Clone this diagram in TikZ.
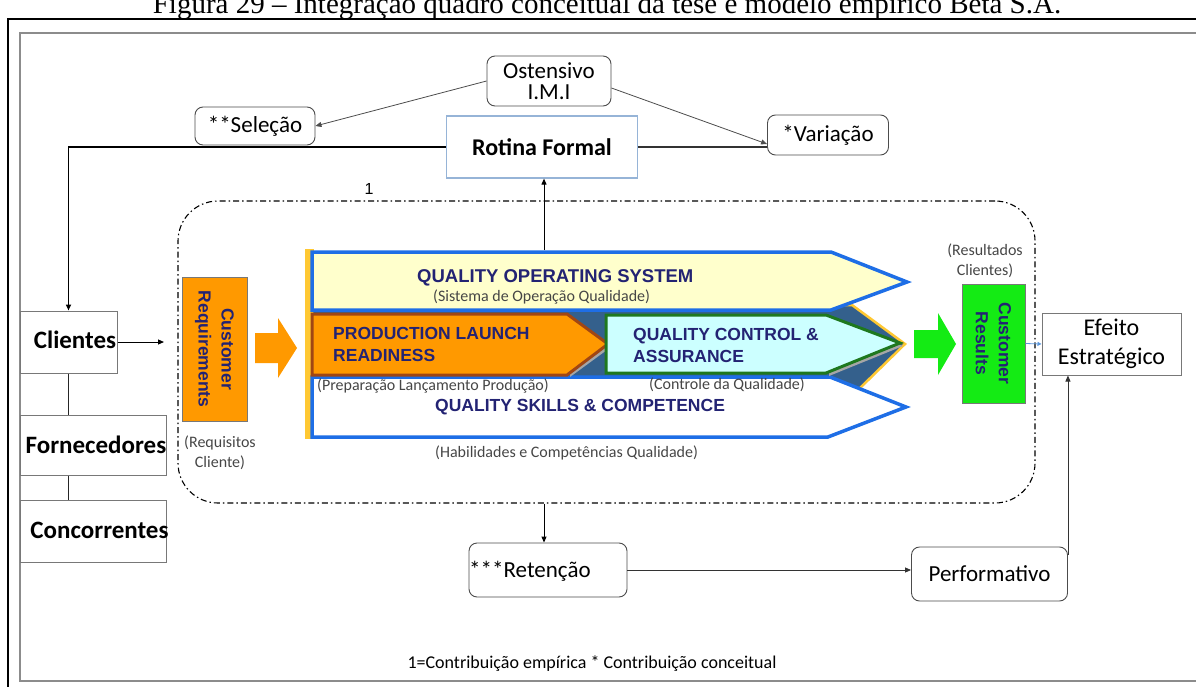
\documentclass[tikz,border=0pt]{standalone}
\usepackage{fontspec}
\setmainfont{Liberation Serif}
\newfontfamily\cali{Carlito}
\newfontfamily\ari{Liberation Sans}
\usetikzlibrary{arrows.meta}
\definecolor{navy}{RGB}{35,35,115}
\definecolor{orng}{RGB}{255,153,0}
\definecolor{orngb}{RGB}{160,70,20}
\definecolor{grn}{RGB}{20,235,20}
\definecolor{cream}{RGB}{255,255,204}
\definecolor{cyanl}{RGB}{204,255,255}
\definecolor{chblue}{RGB}{30,110,230}
\definecolor{chgreen}{RGB}{30,120,30}
\definecolor{steel}{RGB}{52,96,140}
\definecolor{gold}{RGB}{255,200,50}
\definecolor{boxg}{RGB}{120,120,120}
\definecolor{rotb}{RGB}{150,180,215}
\definecolor{subg}{RGB}{70,70,70}
\definecolor{lblue}{RGB}{90,150,220}
\begin{document}
\begin{tikzpicture}[x=1pt,y=-1pt,
  rbox/.style={draw=black!70, line width=0.9pt, rounded corners=8pt, inner sep=0pt, align=center, fill=white,
    font=\cali\fontsize{23}{21}\selectfont},
  sbox/.style={draw=boxg, line width=1pt, inner sep=0pt, fill=white},
  btxt/.style={font=\cali\bfseries\fontsize{25}{25}\selectfont, inner sep=0pt},
  qtitle/.style={font=\ari\bfseries\fontsize{17.5}{22}\selectfont, text=navy, align=left, inner sep=0pt, anchor=west},
  subt/.style={font=\cali\fontsize{16}{20}\selectfont, text=subg, inner sep=0pt},
  arr/.style={-{Triangle[length=6pt,width=5pt]}, line width=0.8pt},
  chev/.style={line width=3.5pt, draw=chblue, line join=miter},
]
\useasboundingbox (0,0) rectangle (1196,687);
% title and frames
\node[font=\fontsize{29}{29}\selectfont, anchor=base, inner sep=0pt] (title) at (607,14)
  {Figura 29 -- Integração quadro conceitual da tese e modelo empírico Beta S.A.};
\draw[line width=2.2pt] (8,720) -- (8,19) -- (1220,19);
\draw[black!45, line width=1.3pt] (1220,33) -- (20,33) -- (20,681) -- (1220,681);

% top nodes
\node[rbox, minimum width=124, minimum height=50] (ost) at (549,81) {Ostensivo\\I.M.I};
\node[rbox, minimum width=120, minimum height=38] (sel) at (255,126) {**Seleção};
\node[sbox, draw=rotb, line width=1.2pt, minimum width=191, minimum height=62,
  font=\cali\bfseries\fontsize{24}{24}\selectfont] (rot) at (542,147) {Rotina Formal};
\node[rbox, minimum width=121, minimum height=40] (var) at (828,135) {*Variação};

\draw[arr, black!70] (ost.west) -- (sel.east);
\draw[arr, black!70] ([yshift=-7pt]ost.east) -- ([yshift=-9pt]var.west);

% dash-dot group
\node[draw, dash pattern=on 6pt off 3pt on 1.5pt off 3pt, line width=1.1pt, rounded corners=40pt,
  minimum width=857, minimum height=302, inner sep=0pt] (grp) at (606.5,352) {};
\node[font=\ari\fontsize{16}{16}\selectfont, inner sep=0pt] (one) at (369,189) {1};

% left boxes
\node[sbox, minimum width=97, minimum height=62] (cli) at (68.5,342) {};
\node[btxt] (clit) at (75,340) {Clientes};
\node[sbox, minimum width=146, minimum height=60] (forn) at (93,445) {};
\node[btxt] (fornt) at (96,445) {Fornecedores};
\node[sbox, minimum width=146, minimum height=62] (conc) at (93,531) {};
\node[btxt] (conct) at (99.5,530) {Concorrentes};
\draw[line width=1.2pt, black!85] (cli.south) -- (cli.south |- forn.north);
\draw[line width=1.2pt, black!85] (cli.south |- forn.south) -- (cli.south |- conc.north);

\draw[arr, line width=1.5pt] (rot.west) -| (cli.north);
\draw[line width=1.5pt, black!80] (rot.east) -- (rot.east -| var.west);

% customer requirements
\node[draw=boxg, fill=orng, line width=1pt, rotate=-90, minimum width=144, minimum height=65, inner sep=0pt,
  font=\ari\bfseries\fontsize{17.5}{23}\selectfont, text=navy, align=center] (cr) at (214.5,349) {Customer\\Requirements};
\node[subt, align=center] (crl) at (220,453) {(Requisitos\\Cliente)};
\coordinate (crin) at (164,342);
\draw[arr, line width=1pt] (cli.east) -- (crin);

% orange block arrow
\fill[orng] (255,333) -- (278,333) -- (278,318) -- (297,348) -- (278,378) -- (278,363) -- (255,363) -- cycle;

% chevron block
\fill[gold] (305,249) rectangle (314,439);
\filldraw[fill=steel, draw=gold, line width=2.5pt] (312,305) -- (852,305) -- (905,344) -- (858,390) -- (312,390) -- cycle;
\filldraw[chev, fill=white] (312,377) -- (830,377) -- (906,407) -- (828,437) -- (312,437) -- cycle;
\filldraw[chev, fill=cream] (312,252) -- (831,252) -- (907,282) -- (831,310) -- (312,310) -- cycle;
\fill[black!35] (570,317) -- (611,347) -- (570,377) -- cycle;
\filldraw[fill=orng, draw=orngb, line width=3pt, line join=miter] (312,314) -- (567,314) -- (608,344) -- (567,375) -- (312,375) -- cycle;
\fill[black!35] (829,318) -- (903,346) -- (829,376) -- cycle;
\filldraw[fill=cyanl, draw=chgreen, line width=3pt, line join=miter] (606,315) -- (826,315) -- (900,343) -- (826,373) -- (606,373) -- cycle;

\node[qtitle, font=\ari\bfseries\fontsize{18.5}{22}\selectfont] (qos) at (417,278) {QUALITY OPERATING SYSTEM};
\node[subt, anchor=west] (qoss) at (433,297) {(Sistema de Operação Qualidade)};
\node[qtitle] (plr) at (333,344) {PRODUCTION LAUNCH\\READINESS};
\node[qtitle] (qca) at (633,345) {QUALITY CONTROL \&\\ASSURANCE};
\node[subt, anchor=west] (plrs) at (317,386) {(Preparação Lançamento Produção)};
\node[subt, anchor=west] (qcas) at (649,385) {(Controle da Qualidade)};
\node[qtitle] (qsc) at (435,407) {QUALITY SKILLS \& COMPETENCE};
\node[subt, anchor=west] (qscs) at (435,453) {(Habilidades e Competências Qualidade)};

\coordinate (qostop) at (544,250);
\draw[arr, line width=1pt] (qostop) -- (qostop |- rot.south);

% green arrow and customer results
\fill[grn] (914,330) -- (938,330) -- (938,313) -- (956,344) -- (938,375) -- (938,358) -- (914,358) -- cycle;
\node[draw=boxg, fill=grn, line width=1pt, rotate=-90, minimum width=119, minimum height=63, inner sep=0pt,
  font=\ari\bfseries\fontsize{17.5}{23}\selectfont, text=navy, align=center] (cres) at (993.5,343.5) {Customer\\Results};
\node[subt, align=center] (cresl) at (985,261) {(Resultados\\Clientes)};

\node[sbox, minimum width=139, minimum height=62, align=center,
  font=\cali\fontsize{24}{29}\selectfont] (eff) at (1111.5,344) {Efeito\\Estratégico};
\draw[lblue, -{Triangle[length=4pt,width=4pt]}, line width=0.8pt] (cres.north) -- (eff.west);

% bottom
\node[rbox, minimum width=158, minimum height=54] (ret) at (548,570) {};
\node[font=\cali\fontsize{23}{23}\selectfont, anchor=west, inner sep=0pt] (rett) at (469,571) {***Retenção};
\node[rbox, minimum width=156, minimum height=54] (perf) at (989.5,574) {Performativo};
\draw[arr, line width=1pt] (grp.south -| qostop) -- (qostop |- ret.north);
\draw[arr, black!80] (ret.east) -- (ret.east -| perf.west);
\draw[arr, black!80] ([yshift=-8pt]perf.north east) -- (perf.north east |- eff.south);

\node[font=\cali\fontsize{18}{18}\selectfont, inner sep=0pt] (foot) at (592,664)
  {1=Contribuição empírica * Contribuição conceitual};
\end{tikzpicture}
\end{document}
